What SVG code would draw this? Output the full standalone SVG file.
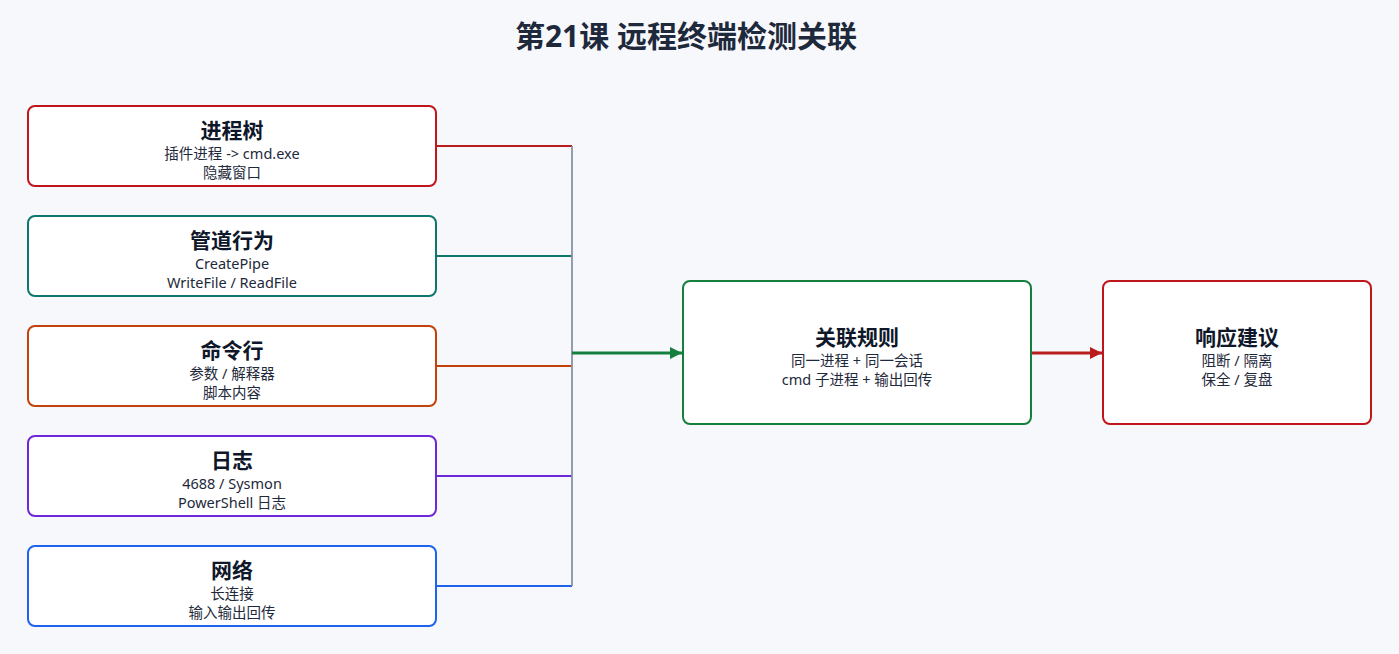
<svg xmlns="http://www.w3.org/2000/svg" width="1399" height="654" viewBox="0 0 1399 654">
<defs>
<style>
.box{fill:#ffffff;stroke-width:2}
.t{font-family:"Noto Sans","Noto Sans CJK SC",sans-serif;font-size:21px;font-weight:700;fill:#0f172a;text-anchor:middle}
.s{font-family:"Noto Sans","Noto Sans CJK SC",sans-serif;font-size:14.5px;fill:#1e293b;text-anchor:middle}
.h{fill:none;stroke-width:1.8}
</style>
<marker id="ag" viewBox="0 0 10 10" refX="10" refY="5" markerWidth="4" markerHeight="4" orient="auto" markerUnits="strokeWidth"><path d="M0,0 L10,5 L0,10 z" fill="#15803d"/></marker>
<marker id="ar" viewBox="0 0 10 10" refX="10" refY="5" markerWidth="4" markerHeight="4" orient="auto" markerUnits="strokeWidth"><path d="M0,0 L10,5 L0,10 z" fill="#b91c1c"/></marker>
</defs>
<rect width="1399" height="654" fill="#f7f8fb"/>
<text x="686" y="47" font-family="'Noto Sans','Noto Sans CJK SC',sans-serif" font-size="30" font-weight="700" fill="#1e293b" text-anchor="middle">第21课 远程终端检测关联</text>
<g id="connectors">
<line class="h" x1="437" y1="146" x2="572" y2="146" stroke="#b91c1c"/>
<line class="h" x1="437" y1="256" x2="572" y2="256" stroke="#0f766e"/>
<line class="h" x1="437" y1="366" x2="572" y2="366" stroke="#c2410c"/>
<line class="h" x1="437" y1="476" x2="572" y2="476" stroke="#6d28d9"/>
<line class="h" x1="437" y1="586" x2="572" y2="586" stroke="#1d63ed"/>
<line x1="572" y1="146" x2="572" y2="586" stroke="#8792a6" stroke-width="1.8"/>
<line x1="572" y1="353" x2="682" y2="353" stroke="#15803d" stroke-width="3" marker-end="url(#ag)"/>
<line x1="1032" y1="353" x2="1102" y2="353" stroke="#b91c1c" stroke-width="3" marker-end="url(#ar)"/>
</g>
<g id="n1"><rect class="box" x="28" y="106" width="408" height="80" rx="7" stroke="#c0161b"/>
<text class="t" x="232" y="138">进程树</text><text class="s" x="232" y="159">插件进程 -&gt; cmd.exe</text><text class="s" x="232" y="178">隐藏窗口</text></g>
<g id="n2"><rect class="box" x="28" y="216" width="408" height="80" rx="7" stroke="#0f766e"/>
<text class="t" x="232" y="248">管道行为</text><text class="s" x="232" y="269">CreatePipe</text><text class="s" x="232" y="288">WriteFile / ReadFile</text></g>
<g id="n3"><rect class="box" x="28" y="326" width="408" height="80" rx="7" stroke="#c2410c"/>
<text class="t" x="232" y="358">命令行</text><text class="s" x="232" y="379">参数 / 解释器</text><text class="s" x="232" y="398">脚本内容</text></g>
<g id="n4"><rect class="box" x="28" y="436" width="408" height="80" rx="7" stroke="#6d28d9"/>
<text class="t" x="232" y="468">日志</text><text class="s" x="232" y="489">4688 / Sysmon</text><text class="s" x="232" y="508">PowerShell 日志</text></g>
<g id="n5"><rect class="box" x="28" y="546" width="408" height="80" rx="7" stroke="#1d63ed"/>
<text class="t" x="232" y="578">网络</text><text class="s" x="232" y="599">长连接</text><text class="s" x="232" y="618">输入输出回传</text></g>
<g id="n6"><rect class="box" x="683" y="281" width="348" height="143" rx="7" stroke="#15803d"/>
<text class="t" x="857" y="345">关联规则</text><text class="s" x="857" y="366">同一进程 + 同一会话</text><text class="s" x="857" y="385">cmd 子进程 + 输出回传</text></g>
<g id="n7"><rect class="box" x="1103" y="281" width="268" height="143" rx="7" stroke="#c0161b"/>
<text class="t" x="1237" y="345">响应建议</text><text class="s" x="1237" y="366">阻断 / 隔离</text><text class="s" x="1237" y="385">保全 / 复盘</text></g>
</svg>
